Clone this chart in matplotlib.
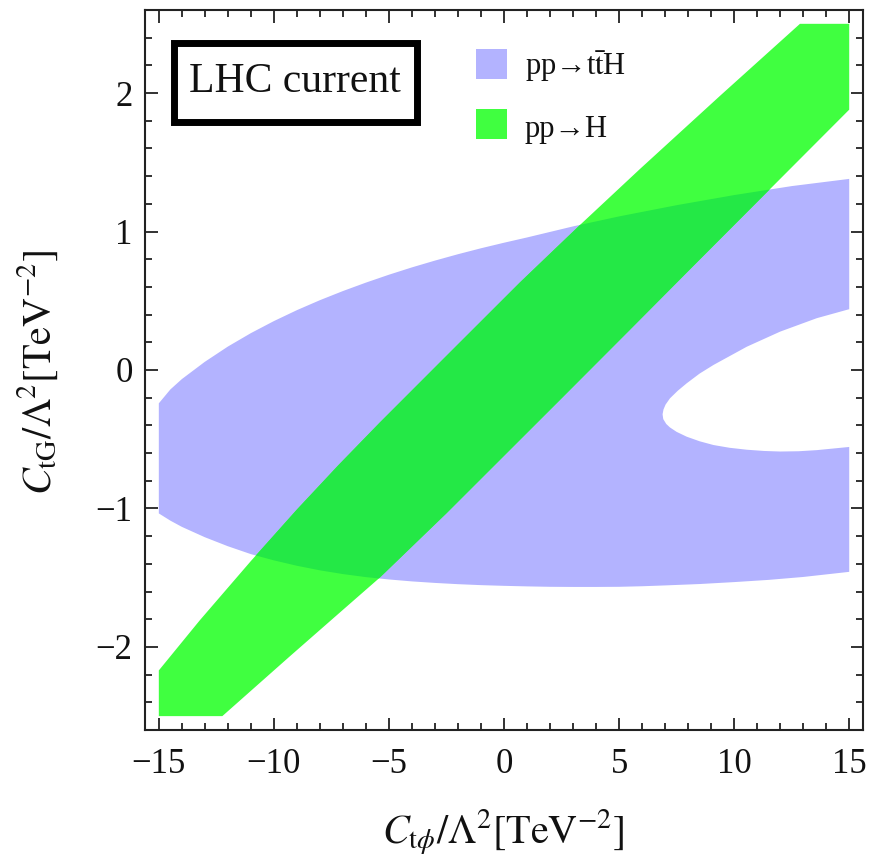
import matplotlib
matplotlib.use("Agg")
import matplotlib.pyplot as plt
from matplotlib.patches import Polygon, Rectangle
from matplotlib.ticker import MultipleLocator

plt.rcParams["font.family"] = ["Liberation Serif", "DejaVu Serif"]
plt.rcParams["mathtext.fontset"] = "stix"

# Plotted range of the scan (C_tphi, C_tG in TeV^-2)
scan_x = [-15, 15]
scan_y = [-2.5, 2.5]

# pp -> ttH allowed region: outer contour (top and bottom) and inner excluded ellipse
tth_top_x = [-15, -14.5, -14, -13, -12, -11, -10, -9, -8, -7, -6, -5, -4, -3, -2, -1,
             0, 1, 3, 5, 7.5, 10, 12.5, 15]
tth_top_y = [-0.241, -0.141, -0.066, 0.059, 0.169, 0.266, 0.353, 0.432, 0.504, 0.570,
             0.631, 0.688, 0.741, 0.790, 0.836, 0.879, 0.919, 0.957, 1.037, 1.109,
             1.19, 1.263, 1.328, 1.38]
tth_hole_up_x = [15, 13.59, 12.0, 10.55, 9.10, 8.5, 7.94, 7.55, 7.21, 7.02, 6.93, 6.89]
tth_hole_up_y = [0.439, 0.374, 0.277, 0.168, 0.036, -0.026, -0.096, -0.15, -0.205,
                 -0.25, -0.285, -0.32]
tth_hole_lo_x = [6.92, 7.05, 7.21, 7.5, 7.94, 8.5, 9.1, 9.8, 10.55, 11.3, 12.0, 12.8,
                 13.59, 15]
tth_hole_lo_y = [-0.355, -0.39, -0.415, -0.447, -0.482, -0.515, -0.542, -0.562, -0.576,
                 -0.585, -0.589, -0.587, -0.579, -0.556]
tth_bot_x = [15, 13, 11.5, 10, 8.5, 7, 6, 5, 4, 3, 2, 1, 0, -1, -2, -3, -4, -5, -6, -7,
             -8, -9, -10, -11, -12, -13, -14, -14.5, -15]
tth_bot_y = [-1.458, -1.495, -1.516, -1.532, -1.546, -1.556, -1.562, -1.566, -1.567,
             -1.567, -1.566, -1.563, -1.559, -1.554, -1.547, -1.538, -1.527, -1.513,
             -1.496, -1.474, -1.447, -1.414, -1.375, -1.33, -1.273, -1.208, -1.133,
             -1.088, -1.036]

# pp -> H allowed band: upper and lower contour
h_up_x = [-15, -13.23, -11, -9, -7.2, -5.4, -2.28, 0.69, 3.3, 5.91, 9.4, 12.86]
h_up_y = [-2.17, -1.81, -1.38, -1.008, -0.688, -0.38, 0.139, 0.632, 1.047, 1.452,
          1.982, 2.5]
h_lo_x = [15, 13.2, 10.5, 8.16, 5.47, 2.5, 0, -2.5, -5.4, -7.3, -9.32, -12.24]
h_lo_y = [1.88, 1.58, 1.13, 0.74, 0.29, -0.205, -0.62, -1.035, -1.50, -1.776, -2.07,
          -2.5]

labels = ["pp→t$\\bar{\\mathrm{t}}$H", "pp→H"]
c_tth = "#b3b3ff"
c_h = "#40ff40"
c_both = "#24e846"
frame_c = "#222222"
text_c = "#111111"

fig = plt.figure(figsize=(8.72, 8.60), dpi=100)
ax = fig.add_axes([0.1663, 0.1512, 0.8234, 0.8372])

tth_pts = (list(zip(tth_top_x, tth_top_y)) + list(zip(tth_hole_up_x, tth_hole_up_y))
           + list(zip(tth_hole_lo_x, tth_hole_lo_y)) + list(zip(tth_bot_x, tth_bot_y)))
h_pts = (list(zip(h_up_x, h_up_y)) + [(scan_x[1], scan_y[1])]
         + list(zip(h_lo_x, h_lo_y)) + [(scan_x[0], scan_y[0])])

tth_patch = Polygon(tth_pts, closed=True, facecolor=c_tth, edgecolor="none", zorder=1)
ax.add_patch(tth_patch)
ax.add_patch(Polygon(h_pts, closed=True, facecolor=c_h, edgecolor="none", zorder=2))
both = Polygon(h_pts, closed=True, facecolor=c_both, edgecolor="none", zorder=3)
ax.add_patch(both)
both.set_clip_path(tth_patch)

# 2% padding around the scanned range
pad_x = 0.02 * (scan_x[1] - scan_x[0])
pad_y = 0.02 * (scan_y[1] - scan_y[0])
ax.set_xlim(scan_x[0] - pad_x, scan_x[1] + pad_x)
ax.set_ylim(scan_y[0] - pad_y, scan_y[1] + pad_y)

ax.xaxis.set_major_locator(MultipleLocator(5))
ax.xaxis.set_minor_locator(MultipleLocator(1))
ax.yaxis.set_major_locator(MultipleLocator(1))
ax.yaxis.set_minor_locator(MultipleLocator(0.2))
ax.tick_params(which="both", direction="in", top=True, right=True,
               color=frame_c, width=1.3, labelsize=25, labelcolor=text_c)
ax.tick_params(which="major", length=9)
ax.tick_params(which="minor", length=5)
ax.tick_params(axis="x", pad=13)
ax.tick_params(axis="y", pad=9)
for s in ax.spines.values():
    s.set_color(frame_c)
    s.set_linewidth(1.5)

fig.text(503 / 872, 1 - 832 / 860, r"$C_{\mathrm{t}\phi}/\Lambda^2[\mathrm{TeV}^{-2}]$",
         ha="center", va="center", fontsize=29, color=text_c)
fig.text(38 / 872, 1 - 372 / 860, r"$C_{\mathrm{tG}}/\Lambda^2[\mathrm{TeV}^{-2}]$",
         ha="center", va="center", fontsize=29, rotation=90, color=text_c)

# "LHC current" framed label
fig.add_artist(Rectangle((0.199, 0.8576), 0.2787, 0.0919, transform=fig.transFigure,
                         facecolor="white", edgecolor="black", linewidth=5, zorder=5))
fig.text(0.3383, 1 - 92 / 860, "LHC current", ha="center", va="baseline",
         fontsize=30, color=text_c, zorder=6)

# legend swatches
for i, (lab, col) in enumerate(zip(labels, [c_tth, c_h])):
    top = 49 + i * 60
    fig.add_artist(Rectangle((476 / 872, 1 - (top + 30) / 860), 31 / 872, 30 / 860,
                             transform=fig.transFigure, facecolor=col,
                             edgecolor="none", zorder=5))
    fig.text(525 / 872, 1 - (75 + i * 61.7) / 860, lab, ha="left", va="baseline",
             fontsize=22, color=text_c, zorder=6)

fig.savefig("out.png", dpi=100)
